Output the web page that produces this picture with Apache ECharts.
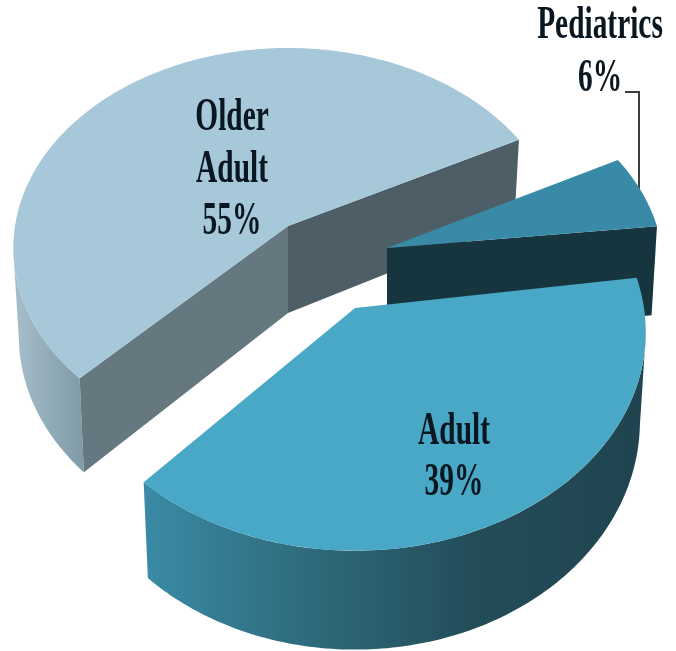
<!DOCTYPE html>
<html>
<head>
<meta charset="utf-8">
<title>Patient age groups</title>
<style>
html,body{margin:0;padding:0;background:#fff}
#main{width:676px;height:651px}
</style>
<script src="https://cdn.jsdelivr.net/npm/echarts@6/dist/echarts.min.js"></script>
</head>
<body>
<div id="main"></div>
<script>
// chart data
var categories = ['Older Adult', 'Adult', 'Pediatrics']
var values = [55, 39, 6]
var labelLines = [['Older', 'Adult'], ['Adult'], ['Pediatrics']]

// look of the 3d pie: p = perspective, sx/sy = how the bottom rim differs from the top rim
var startAngle = -27.3
var p = 0.11
var sx = 0.98, sy = 1.045
var layout = [
    {vx: 288, vy: 226, r: 273, rk: 197.6, depth: 87, spin: 0, order: 0, top: '#a6c8d9',
     wallEnd: '#65787f', wallStart: '#4e5e67',
     rim: ['#a7bfcb', '#7f99a7'], label: [232, 118, 52]},
    {vx: 355, vy: 308, r: 289, rk: 216, depth: 88, spin: -2.5, order: 2, top: '#48a8c6',
     rim: ['#3a8ba6', '#2e6a7b', '#234c59', '#1f444f'], label: [454, 432, 51]},
    {vx: 387, vy: 248, r: 275, rk: 197, depth: 90, spin: -0.7, order: 1, top: '#388aa7',
     wallEnd: null, wallStart: '#17353f', label: [600, 26, 53]}
]
var leader = [[625, 92], [639, 92], [639, 190]]
var textFont = 'bold 28px "Liberation Serif"'

function proj(s, deg, bottom){
    var t = deg * Math.PI / 180
    var w = 1 - p * Math.sin(t)
    var x = s.r * Math.cos(t) / w
    var y = s.rk * Math.sin(t) / w
    if(bottom){
        return [s.vx + x * sx, s.vy + s.depth + y * sy]
    }
    return [s.vx + x, s.vy + y]
}

function arc(s, from, to, bottom){
    var pts = []
    var n = Math.max(2, Math.ceil(Math.abs(to - from)))
    for(var i = 0; i <= n; i++){
        pts.push(proj(s, from + (to - from) * i / n, bottom))
    }
    return pts
}

function wall(s, deg){
    return [[s.vx, s.vy], proj(s, deg, false), proj(s, deg, true), [s.vx, s.vy + s.depth]]
}

function word(text, x, y, z){
    return {
        type: 'text', x: x, y: y, scaleX: 1.05, scaleY: 1.62, z2: z,
        style: {text: text, x: 0, y: 0, font: textFont, fill: '#0a1620', align: 'center', verticalAlign: 'middle'}
    }
}

function renderSlice(params, api){
    var i = params.dataIndex
    var s = layout[i]
    var done = 0
    for(var k = 0; k < i; k++) done += values[k]
    var from = startAngle + s.spin - done * 3.6
    var to = from - api.value(0) * 3.6
    var z = s.order * 10 + 1
    var kids = []

    // rim: only the part below the tangent points, which is what faces the viewer
    var front = []
    for(var d = from; d >= to; d -= 1){
        if(Math.sin(d * Math.PI / 180) >= p) front.push(d)
    }
    if(s.rim && front.length > 1){
        var a = front[0], b = front[front.length - 1]
        var stops = s.rim.map(function(c, n){ return {offset: n / (s.rim.length - 1), color: c} })
        kids.push({
            type: 'polygon', z2: z,
            shape: {points: arc(s, a, b, false).concat(arc(s, b, a, true))},
            style: {fill: new echarts.graphic.LinearGradient(0, 0, 1, 0, stops)}
        })
    }
    if(s.wallStart){
        kids.push({type: 'polygon', z2: z + 1, shape: {points: wall(s, from)}, style: {fill: s.wallStart}})
    }
    if(s.wallEnd){
        kids.push({type: 'polygon', z2: z + 1, shape: {points: wall(s, to)}, style: {fill: s.wallEnd}})
    }
    kids.push({
        type: 'polygon', z2: z + 2,
        shape: {points: [[s.vx, s.vy]].concat(arc(s, from, to, false))},
        style: {fill: s.top}
    })

    // labels
    var lines = labelLines[i].concat([api.value(0) + '%'])
    lines.forEach(function(txt, n){
        kids.push(word(txt, s.label[0], s.label[1] + n * s.label[2], 100))
    })
    return {type: 'group', children: kids}
}

var myChart = echarts.init(document.getElementById('main'))
myChart.setOption({
    backgroundColor: '#fff',
    animation: false,
    graphic: [{
        type: 'polyline', z: 1,
        shape: {points: leader},
        style: {stroke: '#3c3f42', lineWidth: 2, fill: null}
    }],
    series: [{
        type: 'custom',
        coordinateSystem: 'none',
        name: 'Patients',
        z: 2,
        renderItem: renderSlice,
        data: categories.map(function(c, i){ return {name: c, value: [values[i]]} })
    }]
})
</script>
</body>
</html>
